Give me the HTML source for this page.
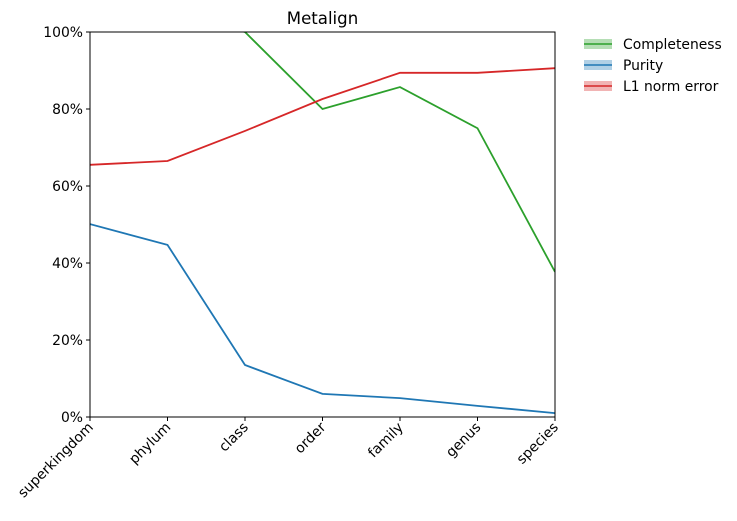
<!DOCTYPE html>
<html><head><meta charset="utf-8"><style>
body{margin:0;background:#fff;font-family:"DejaVu Sans","Liberation Sans",sans-serif}
</style></head><body>
<svg id="chart" width="737" height="517" xmlns="http://www.w3.org/2000/svg" font-family="DejaVu Sans, Liberation Sans, sans-serif">
<defs><clipPath id="clip"><rect x="90" y="32" width="465" height="385"/></clipPath></defs>
<text x="322.5" y="24" text-anchor="middle" font-size="16.6">Metalign</text>
<g id="plot" clip-path="url(#clip)"></g>
<g id="axes"></g>
<rect x="90" y="32" width="465" height="385" fill="none" stroke="#000" stroke-width="1"/>
<g font-size="13.9">
<g><rect x="584" y="39" width="28" height="10" fill="#2ca02c" opacity="0.35"/><line x1="584" y1="44" x2="612" y2="44" stroke="#2ca02c" stroke-width="1.5"/><text x="623" y="49">Completeness</text></g>
<g><rect x="584" y="60" width="28" height="10" fill="#1f77b4" opacity="0.35"/><line x1="584" y1="65" x2="612" y2="65" stroke="#1f77b4" stroke-width="1.5"/><text x="623" y="70">Purity</text></g>
<g><rect x="584" y="81" width="28" height="10" fill="#d62728" opacity="0.35"/><line x1="584" y1="86" x2="612" y2="86" stroke="#d62728" stroke-width="1.5"/><text x="623" y="91">L1 norm error</text></g>
</g>
</svg>
<script>
const categories=["superkingdom","phylum","class","order","family","genus","species"];
const completeness=[1.05,1.05,1.0,0.80,0.857,0.75,0.377];
const purity=[0.501,0.447,0.135,0.06,0.049,0.029,0.01];
const l1error=[0.655,0.665,0.743,0.826,0.894,0.894,0.906];
const yTicks=[0,0.2,0.4,0.6,0.8,1.0];
const yTickLabels=["0%","20%","40%","60%","80%","100%"];
const NS="http://www.w3.org/2000/svg";
const X0=90,X1=555,Y0=417,Y1=32;
const xs=i=>X0+(X1-X0)*i/(categories.length-1);
const ys=v=>Y0-(Y0-Y1)*v;
const plot=document.getElementById('plot'),axes=document.getElementById('axes');
function line(vals,color,name){
 const p=document.createElementNS(NS,'polyline');
 p.setAttribute('points',vals.map((v,i)=>xs(i)+','+ys(v)).join(' '));
 p.setAttribute('fill','none');p.setAttribute('stroke',color);p.setAttribute('stroke-width','1.8');
 
 
 plot.appendChild(p);
}
line(completeness,'#2ca02c','completeness-line');
line(purity,'#1f77b4','purity-line');
line(l1error,'#d62728','l1-norm-error-line');
yTicks.forEach((t,i)=>{
 const y=ys(t);
 const l=document.createElementNS(NS,'line');
 l.setAttribute('x1',X0-4);l.setAttribute('x2',X0);l.setAttribute('y1',y);l.setAttribute('y2',y);l.setAttribute('stroke','#000');
 
 
 axes.appendChild(l);
 const tx=document.createElementNS(NS,'text');
 tx.setAttribute('x',X0-7);tx.setAttribute('y',y+5);tx.setAttribute('text-anchor','end');tx.setAttribute('font-size','13.9');
 tx.textContent=yTickLabels[i];
 
 
 axes.appendChild(tx);
});
categories.forEach((c,i)=>{
 const x=xs(i);
 const l=document.createElementNS(NS,'line');
 l.setAttribute('x1',x);l.setAttribute('x2',x);l.setAttribute('y1',Y0);l.setAttribute('y2',Y0+4);l.setAttribute('stroke','#000');
 
 
 axes.appendChild(l);
 const tx=document.createElementNS(NS,'text');
 tx.setAttribute('transform','translate('+(x+4)+','+(Y0+11)+') rotate(-45)');
 tx.setAttribute('text-anchor','end');tx.setAttribute('font-size','13.9');
 tx.textContent=c;
 
 
 axes.appendChild(tx);
});
</script>
</body></html>
